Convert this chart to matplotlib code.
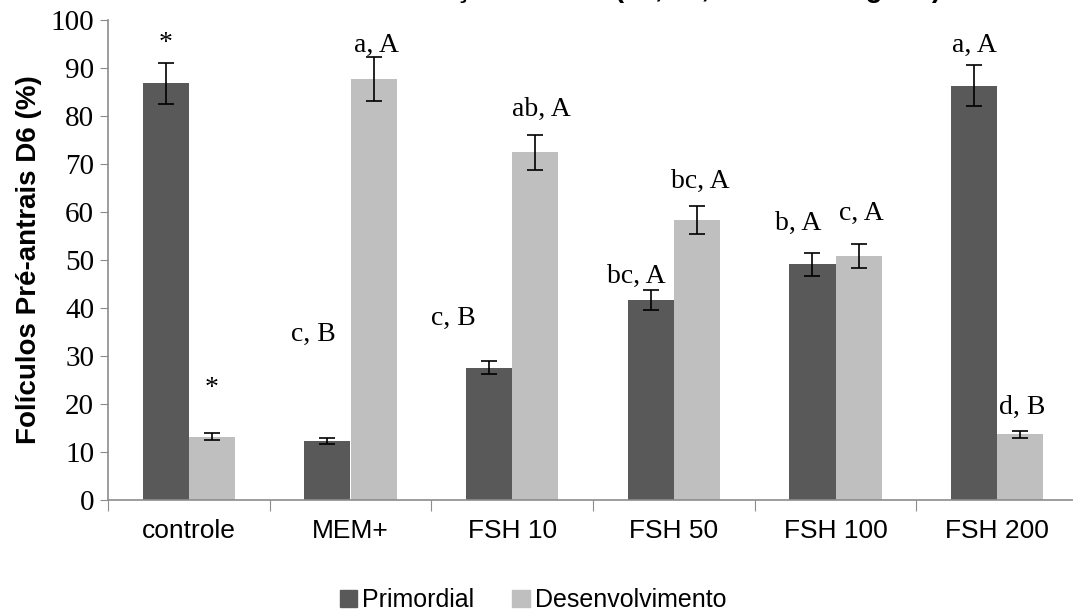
import numpy as np
import matplotlib.pyplot as plt
from matplotlib.patches import Patch

categories = ["controle", "MEM+", "FSH 10", "FSH 50", "FSH 100", "FSH 200"]
primordial = [86.8, 12.3, 27.6, 41.7, 49.1, 86.3]
primordial_err = [4.3, 0.6, 1.4, 2.1, 2.4, 4.3]
desenvolv = [13.2, 87.7, 72.4, 58.3, 50.9, 13.7]
desenvolv_err = [0.8, 4.5, 3.6, 2.9, 2.5, 0.7]

primordial_lbl = ["*", "c, B", "c, B", "bc, A", "b, A", "a, A"]
primordial_lbl_y = [95.0, 34.6, 37.9, 46.5, 57.7, 94.8]
desenvolv_lbl = ["*", "a, A", "ab, A", "bc, A", "c, A", "d, B"]
desenvolv_lbl_y = [23.3, 94.8, 81.3, 66.3, 59.8, 19.2]

# horizontal nudge of the letter labels (category units)
primordial_lbl_dx = [0.0, -0.09, -0.22, -0.09, -0.09, 0.0]
desenvolv_lbl_dx = [0.0, 0.02, 0.04, 0.02, 0.02, 0.01]

dark = "#595959"
light = "#bfbfbf"
axis_col = "#8c8c8c"

fig = plt.figure(figsize=(10.73, 6.15), dpi=100)
ax = fig.add_axes([108 / 1073, 1 - 500 / 615, (1078 - 108) / 1073, 480 / 615])

x = np.arange(len(categories))
w = 0.285
ax.bar(x - w / 2, primordial, w, color=dark, yerr=primordial_err,
       error_kw=dict(ecolor="black", lw=1.2, capsize=6, capthick=1.2), zorder=2)
ax.bar(x + w / 2, desenvolv, w, color=light, yerr=desenvolv_err,
       error_kw=dict(ecolor="black", lw=1.2, capsize=6, capthick=1.2), zorder=2)

for i in range(len(categories)):
    ax.text(x[i] - w / 2 + primordial_lbl_dx[i], primordial_lbl_y[i], primordial_lbl[i],
            ha="center", va="center", family="Liberation Serif", fontsize=20)
    ax.text(x[i] + w / 2 + desenvolv_lbl_dx[i], desenvolv_lbl_y[i], desenvolv_lbl[i],
            ha="center", va="center", family="Liberation Serif", fontsize=20)

ax.set_xlim(-0.5, len(categories) - 0.5)
ax.set_ylim(0, 100)
ax.set_yticks(range(0, 101, 10))
for lab in ax.get_yticklabels():
    lab.set_family("Liberation Serif")
    lab.set_fontsize(21)
ax.tick_params(axis="y", direction="out", length=6, color=axis_col, pad=4)

ax.set_xticks(np.arange(-0.5, len(categories), 1.0))
ax.set_xticklabels([])
ax.set_xticks(x, minor=True)
ax.set_xticklabels(categories, minor=True, family="Liberation Sans", fontsize=19)
ax.tick_params(axis="x", which="major", direction="out", length=8, color=axis_col)
ax.tick_params(axis="x", which="minor", length=0, pad=14)

for s in ["top", "right"]:
    ax.spines[s].set_visible(False)
for s in ["left", "bottom"]:
    ax.spines[s].set_color(axis_col)
    ax.spines[s].set_linewidth(1.2)

ax.set_ylabel("Folículos Pré-antrais D6 (%)", family="Liberation Sans",
              fontweight="bold", fontsize=20, labelpad=6)

handles = [Patch(color=dark), Patch(color=light)]
fig.legend(handles, ["Primordial", "Desenvolvimento"], loc="center",
           bbox_to_anchor=(533 / 1073, 1 - 600 / 615), ncol=2, frameon=False,
           prop={"family": "Liberation Sans", "size": 18},
           handlelength=0.7, handleheight=0.7, handletextpad=0.2, columnspacing=1.5)

fig.text(630 / 1073, 1.0 + 3 / 615, "Concentração de FSH (10, 50, 100 e 200 ng/mL)",
         ha="center", va="baseline", family="Liberation Sans", fontweight="bold", fontsize=20)

fig.savefig("out.png", dpi=100)
